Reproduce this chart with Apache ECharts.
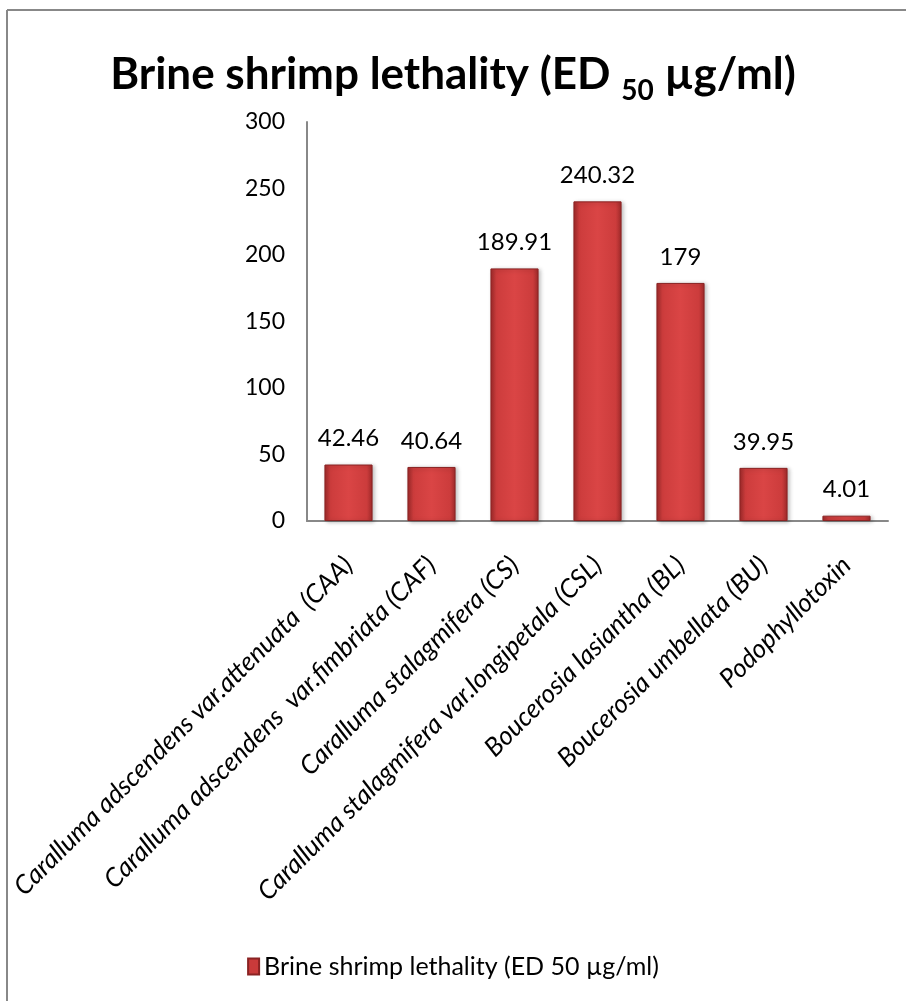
<!DOCTYPE html>
<html>
<head><meta charset="utf-8"></head>
<script type="text/javascript" src="https://cdn.jsdelivr.net/npm/echarts@6/dist/echarts.min.js"></script>
<body style="margin:0;background:#fff;">
    <div id="main" style="width:906px;height:1001px;"></div>
</body>
<script type="text/javascript">
var categories = [
    'Caralluma adscendens var.attenuata  (CAA)',
    'Caralluma adscendens  var.fimbriata (CAF)',
    'Caralluma stalagmifera (CS)',
    'Caralluma stalagmifera var.longipetala (CSL)',
    'Boucerosia lasiantha (BL)',
    'Boucerosia umbellata (BU)',
    'Podophyllotoxin'
]
var values = [42.46, 40.64, 189.91, 240.32, 179, 39.95, 4.01]
var seriesName = 'Brine shrimp lethality (ED 50 µg/ml)'
var yTicks = [0, 50, 100, 150, 200, 250, 300]

var font = 'Lato'
// bar fill: darker edges, lighter middle (bevel look)
var barColor = new echarts.graphic.LinearGradient(0, 0, 1, 0, [
    {offset: 0, color: '#9e2a2a'},
    {offset: 0.12, color: '#cc3c3c'},
    {offset: 0.5, color: '#da4545'},
    {offset: 0.88, color: '#cc3c3c'},
    {offset: 1, color: '#9e2a2a'}
])

var myChart = echarts.init(document.getElementById('main'))
myChart.setOption({
    animation: false,
    title: {
        text: '{m|Brine shrimp lethality (ED }{s|50}{m| µg/ml)}',
        left: 'center',
        top: 40,
        textStyle: {
            rich: {
                m: {fontFamily: font, fontWeight: 'bold', fontSize: 44, color: '#000'},
                s: {fontFamily: font, fontWeight: 'bold', fontSize: 28, color: '#000', padding: [32, 0, 0, 0]}
            }
        }
    },
    legend: {
        bottom: 17,
        left: 'center',
        icon: 'rect',
        itemWidth: 11,
        itemHeight: 16,
        itemGap: 4,
        textStyle: {fontFamily: font, fontSize: 25, color: '#000'},
        data: [{name: seriesName, itemStyle: {color: '#c93a3a'}}]
    },
    grid: {left: 307, right: 18, top: 122, bottom: 480, containLabel: false},
    xAxis: {
        type: 'category',
        data: categories,
        axisLine: {lineStyle: {color: '#888', width: 2}},
        axisTick: {show: false},
        axisLabel: {
            rotate: 45,
            interval: 0,
            margin: 40,
            fontFamily: font,
            fontStyle: 'italic',
            fontSize: 26,
            color: '#000'
        }
    },
    yAxis: {
        type: 'value',
        min: 0,
        max: 300,
        interval: 50,
        axisLine: {show: true, lineStyle: {color: '#888', width: 2}},
        axisTick: {show: false},
        splitLine: {show: false},
        axisLabel: {
            margin: 22,
            fontFamily: font,
            fontSize: 23,
            color: '#000',
            customValues: yTicks
        }
    },
    graphic: [
        {type: 'line', shape: {x1: 7, y1: 10, x2: 906, y2: 10}, style: {stroke: '#888', lineWidth: 2}},
        {type: 'line', shape: {x1: 7, y1: 10, x2: 7, y2: 1001}, style: {stroke: '#888', lineWidth: 2}}
    ],
    series: [{
        name: seriesName,
        type: 'bar',
        data: values,
        barWidth: '58%',
        itemStyle: {
            color: barColor,
            borderColor: '#8a2323',
            borderWidth: 1,
            shadowColor: 'rgba(0,0,0,0.25)',
            shadowBlur: 4,
            shadowOffsetX: 2,
            shadowOffsetY: 1
        },
        label: {
            show: true,
            position: 'top',
            distance: 14,
            fontFamily: font,
            fontSize: 24,
            color: '#000'
        }
    }]
})
</script>
</html>
